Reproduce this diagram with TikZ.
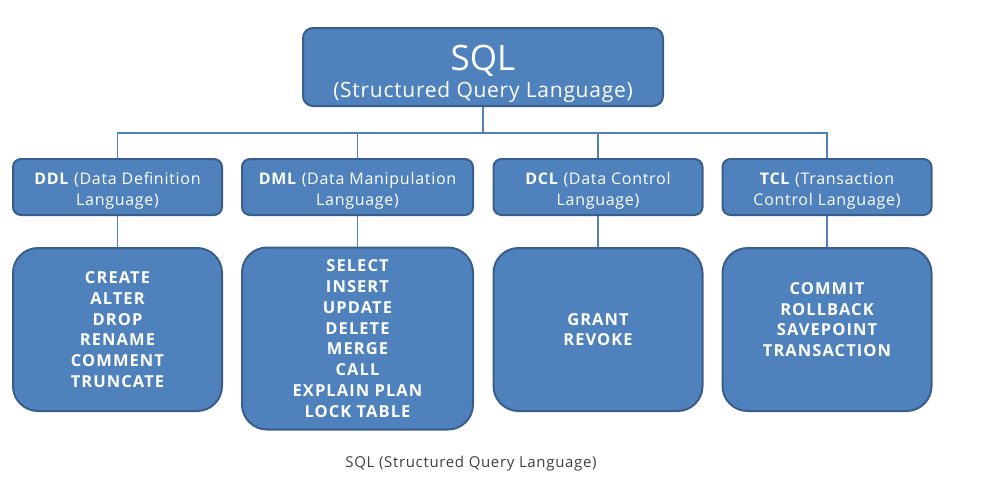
\documentclass[tikz,border=0pt]{standalone}
\usepackage{fontspec}
\setmainfont{Open Sans}
\newfontfamily\widefont[LetterSpace=4.5]{Open Sans}
\newfontfamily\cmdfont[LetterSpace=6.5]{Open Sans}
\newfontfamily\titlefont[LetterSpace=3.5]{Open Sans}
\definecolor{boxblue}{HTML}{4F81BD}
\definecolor{boxline}{HTML}{3A5E8C}
\definecolor{captiongray}{HTML}{404040}
\newcommand{\lift}[1]{\rule{0pt}{#1}}
\newcommand{\sink}[1]{\rule[-#1]{0pt}{1pt}}

\begin{document}
\begin{tikzpicture}[x=1pt,y=-1pt,
  box/.style={draw=boxline,line width=2pt,fill=boxblue,text=white,align=center,inner sep=0pt},
  rootbox/.style={box,rounded corners=10pt,minimum width=360pt,minimum height=78pt},
  langbox/.style={box,rounded corners=8pt,minimum width=209pt,minimum height=56pt,font=\widefont\fontsize{16}{21}\selectfont},
  cmdbox/.style={box,rounded corners=25pt,minimum width=209pt,minimum height=163pt,font=\cmdfont\bfseries\fontsize{16.5}{20.8}\selectfont},
  link/.style={draw=boxblue,line width=1.3pt}]
\useasboundingbox (0,0) rectangle (984,483);

\node[rootbox] (sql) at (483,67)
  {\lift{39pt}\fontsize{35}{35}\selectfont SQL\\[4pt]\titlefont\fontsize{21}{30}\selectfont (Structured Query Language)};

\coordinate (bus) at (483,133);

\node[langbox] (ddl) at (117.5,187) {\lift{19pt}\textbf{DDL} (Data Definition\\Language)};
\node[langbox,minimum width=231pt] (dml) at (357.5,187) {\lift{19pt}\textbf{DML} (Data Manipulation\\Language)};
\node[langbox] (dcl) at (598,187) {\lift{19pt}\textbf{DCL} (Data Control\\Language)};
\node[langbox] (tcl) at (827,187) {\lift{19pt}\textbf{TCL} (Transaction\\Control Language)};

\node[cmdbox] (ddlcmd) at (117.5,329.5) {CREATE\\ALTER\\DROP\\RENAME\\COMMENT\\TRUNCATE};
\node[cmdbox,minimum width=231pt,minimum height=182pt] (dmlcmd) at (357.5,338.5)
  {SELECT\\INSERT\\UPDATE\\DELETE\\MERGE\\CALL\\EXPLAIN PLAN\\LOCK TABLE};
\node[cmdbox] (dclcmd) at (598,329.5) {GRANT\\REVOKE};
\node[cmdbox] (tclcmd) at (827,329.5) {COMMIT\\ROLLBACK\\SAVEPOINT\\TRANSACTION\sink{20pt}};

% connectors
\draw[link] (sql.south) -- (bus);
\foreach \n in {ddl,dml,dcl,tcl} {
  \draw[link] (bus) -| (\n.north);
  \draw[link] (\n.south) -- (\n cmd.north);
}

\node[text=captiongray,font=\widefont\fontsize{15}{16}\selectfont] (caption) at (471,464)
  {SQL (Structured Query Language)};
\end{tikzpicture}
\end{document}
